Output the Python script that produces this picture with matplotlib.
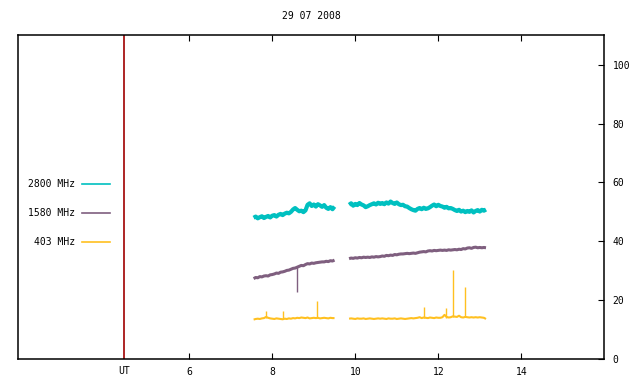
import numpy as np
import matplotlib
matplotlib.use("Agg")
import matplotlib.pyplot as plt

# sampling: two observing runs, 0.05 h steps
run1_start = 7.55
run2_start = 9.85
step = 0.05

f2800_run1 = [48.0, 48.4, 47.8, 48.2, 48.5, 47.9, 48.3, 48.6, 48.1, 48.7,
              48.9, 48.4, 49.0, 49.3, 48.9, 49.4, 49.7, 49.5, 50.0, 50.8,
              51.3, 50.7, 50.2, 50.4, 49.9, 50.5, 52.4, 52.9, 52.0, 52.5,
              51.8, 52.6, 52.2, 51.7, 52.3, 51.4, 51.0, 51.6, 50.9, 51.8]
f2800_run2 = [52.4, 52.9, 52.1, 52.7, 52.3, 53.0, 52.5, 52.2, 51.6, 51.9,
              52.3, 52.6, 52.9, 52.5, 53.1, 52.7, 53.0, 52.6, 53.2, 52.8,
              53.5, 53.0, 52.7, 53.2, 52.6, 52.3, 52.4, 51.9, 51.8, 51.3,
              50.9, 50.6, 50.4, 51.0, 51.3, 50.9, 51.4, 51.0, 51.2, 51.6,
              52.1, 52.5, 51.9, 52.4, 52.0, 51.8, 51.4, 51.7, 51.2, 51.3,
              51.0, 50.6, 50.3, 50.7, 50.1, 50.4, 49.9, 50.3, 50.0, 50.5,
              49.8, 50.3, 50.6, 50.1, 50.7, 50.4, 50.8]

f1580_run1 = [27.3, 27.7, 27.6, 28.0, 27.9, 28.2, 28.3, 28.2, 28.6, 28.7,
              28.9, 29.2, 29.1, 29.5, 29.6, 29.8, 30.1, 30.2, 30.5, 30.8,
              30.9, 31.2, 31.5, 31.8, 31.7, 32.1, 32.4, 32.3, 32.6, 32.5,
              32.7, 32.8, 32.9, 33.0, 33.0, 33.2, 33.1, 33.4, 33.3, 33.6]
f1580_run2 = [34.1, 34.3, 34.2, 34.4, 34.3, 34.5, 34.4, 34.6, 34.5, 34.6,
              34.5, 34.7, 34.6, 34.8, 34.7, 34.8, 35.0, 34.9, 35.2, 35.1,
              35.3, 35.2, 35.5, 35.4, 35.6, 35.7, 35.7, 35.8, 35.9, 35.8,
              35.9, 36.0, 35.9, 36.1, 36.3, 36.4, 36.5, 36.4, 36.7, 36.8,
              36.7, 36.9, 36.8, 36.9, 37.0, 36.9, 37.0, 36.9, 37.1, 37.0,
              37.1, 37.2, 37.1, 37.3, 37.2, 37.5, 37.4, 37.7, 37.8, 37.6,
              37.9, 38.0, 37.8, 37.9, 37.8, 37.9, 37.8]

f403_run1 = [13.4, 13.6, 13.7, 13.6, 13.8, 13.9, 14.3, 14.0, 13.8, 13.7,
             13.6, 13.8, 13.7, 13.6, 13.5, 13.7, 13.6, 13.8, 13.7, 13.9,
             13.8, 14.0, 13.9, 14.1, 14.0, 13.9, 14.1, 13.8, 13.9, 14.0,
             13.9, 14.0, 13.8, 13.9, 14.0, 13.9, 13.8, 14.0, 13.9, 13.9]
f403_run2 = [13.7, 13.8, 13.7, 13.6, 13.8, 13.7, 13.7, 13.8, 13.6, 13.7,
             13.8, 13.7, 13.6, 13.7, 13.8, 13.7, 13.8, 13.7, 13.6, 13.8,
             13.7, 13.7, 13.8, 13.6, 13.7, 13.8, 13.7, 13.6, 13.7, 13.8,
             13.9, 13.8, 13.9, 14.0, 14.2, 13.9, 14.1, 14.0, 13.9, 14.1,
             14.0, 13.9, 14.1, 14.0, 14.0, 14.2, 15.0, 14.3, 14.1, 14.2,
             14.5, 14.4, 14.3, 14.7, 14.2, 14.1, 14.3, 14.2, 14.1, 14.2,
             14.1, 14.2, 14.1, 14.2, 14.1, 14.0, 13.6]

# short bursts: (time, base, peak)
spikes_1580 = [(8.60, 31.2, 22.6)]
spikes_403 = [(7.85, 14.0, 16.4), (8.27, 13.7, 16.3), (9.07, 13.9, 19.8),
              (11.66, 14.0, 17.8), (12.19, 14.1, 17.5), (12.36, 14.3, 30.3),
              (12.65, 14.2, 24.5)]

series = [("2800 MHz", f2800_run1, f2800_run2, "#00c0c0", 3.0, []),
          ("1580 MHz", f1580_run1, f1580_run2, "#7f5f7f", 2.2, spikes_1580),
          ("403 MHz", f403_run1, f403_run2, "#ffc020", 1.5, spikes_403)]

ut_mark = 4.43
title = "29 07 2008"

fnt = "DejaVu Sans Mono"
fs = 7

fig = plt.figure(figsize=(6.4, 3.84), dpi=100)
ax = fig.add_axes([0.0286, 0.0651, 0.9156, 0.843])

for label, r1, r2, col, lw, spk in series:
    t1 = run1_start + step * np.arange(len(r1))
    t2 = run2_start + step * np.arange(len(r2))
    ax.plot(t1, r1, color=col, lw=lw, solid_capstyle="butt")
    ax.plot(t2, r2, color=col, lw=lw, solid_capstyle="butt")
    if spk:
        ax.vlines([s[0] for s in spk], [s[1] for s in spk], [s[2] for s in spk],
                  color=col, lw=1)

ax.axvline(ut_mark, color="#a00000", lw=1.2)

ax.set_xlim(1.88, 16.0)
ax.set_ylim(0, 110)
ax.set_xticks([6, 8, 10, 12, 14])
ax.set_yticks([0, 20, 40, 60, 80, 100])
ax.tick_params(axis="x", direction="in", length=4, top=True, labelsize=fs, pad=6)
ax.tick_params(axis="y", direction="in", length=4, left=False, right=True,
               labelleft=False, labelright=True, labelsize=fs, pad=6)
for lab in ax.get_xticklabels() + ax.get_yticklabels():
    lab.set_family(fnt)
for sp in ax.spines.values():
    sp.set_linewidth(1.1)

ax.text(ut_mark, -0.022, "UT", transform=ax.get_xaxis_transform(),
        ha="center", va="top", family=fnt, fontsize=fs)
ax.set_title(title, family=fnt, fontsize=fs, pad=12)

# legend drawn by hand, text right-aligned left of the sample line
for i, (label, r1, r2, col, lw, spk) in enumerate(series):
    yy = 0.5406 - i * 0.0896
    ax.text(0.0968, yy, label, transform=ax.transAxes, ha="right", va="center",
            family=fnt, fontsize=fs)
    ax.plot([0.1087, 0.157], [yy, yy], transform=ax.transAxes, color=col, lw=1.2)

fig.savefig("out.png", dpi=100)
